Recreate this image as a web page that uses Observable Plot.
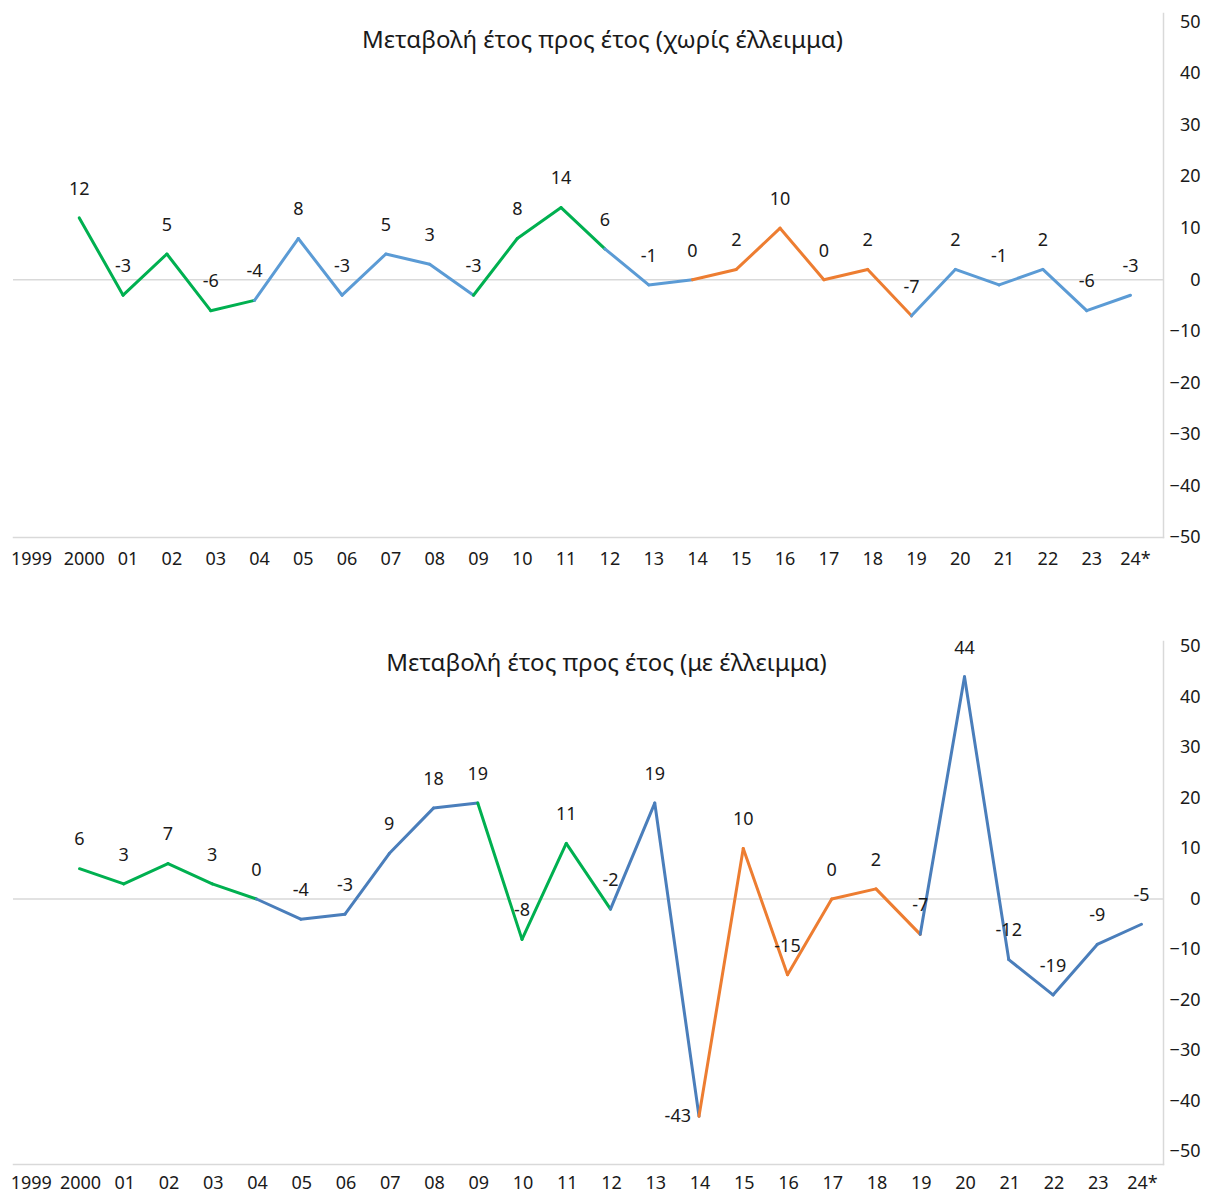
<!DOCTYPE html>
<html><head><meta charset="utf-8">
<script src="https://cdn.jsdelivr.net/npm/d3@7"></script>
<script src="https://cdn.jsdelivr.net/npm/@observablehq/plot@0.6"></script>
<style>
body{margin:0;background:#fff;}
#c svg{display:block;overflow:visible;}
</style></head><body><div id="c"></div>
<script>
const years = ["1999","2000","01","02","03","04","05","06","07","08","09","10","11","12","13","14","15","16","17","18","19","20","21","22","23","24*"];
const dataYears = years.slice(1);
const titleTop = "Μεταβολή έτος προς έτος (χωρίς έλλειμμα)";
const titleBottom = "Μεταβολή έτος προς έτος (με έλλειμμα)";
const valuesWithout = [12,-3,5,-6,-4,8,-3,5,3,-3,8,14,6,-1,0,2,10,0,2,-7,2,-1,2,-6,-3];
const valuesWith = [6,3,7,3,0,-4,-3,9,18,19,-8,11,-2,19,-43,10,-15,0,2,-7,44,-12,-19,-9,-5];
// colour group of each segment, from one year to the next (2000→01 … 23→24*)
const segmentGroup = ["G","G","G","G","B","B","B","B","B","G","G","G","B","B","O","O","O","O","O","B","B","B","B","B"];
const yTicks = [-50,-40,-30,-20,-10,0,10,20,30,40,50];

function chart(values, o) {
  const pts = dataYears.map((y, i) => ({year: y, value: values[i]}));
  const segs = segmentGroup.map((g, i) => ({x1: dataYears[i], y1: values[i], x2: dataYears[i + 1], y2: values[i + 1], group: g}));
  const axisOpts = {anchor: "bottom", tickSize: 0, tickPadding: o.xPad, fontSize: 18, label: null, fill: "#1a1a1a"};
  return Plot.plot({
    width: 1210, height: o.height,
    marginLeft: 13, marginRight: 47, marginTop: o.marginTop, marginBottom: o.marginBottom,
    style: {fontFamily: "'Noto Sans', sans-serif", fontSize: "18px", color: "#1a1a1a", background: "#fff", overflow: "visible"},
    x: {type: "point", domain: years, padding: 0, round: false, range: o.xRange, label: null},
    y: {domain: [-50, 50], insetTop: o.insetTop, insetBottom: o.insetBottom, label: null},
    color: {type: "ordinal", domain: ["G", "B", "O"], range: ["#00B050", o.blue, "#ED7D31"]},
    marks: [
      Plot.frame({anchor: "right", stroke: "#d9d9d9", strokeWidth: 1.5, strokeOpacity: 1}),
      Plot.frame({anchor: "bottom", stroke: "#d9d9d9", strokeWidth: 1.5, strokeOpacity: 1}),
      Plot.ruleY([0], {stroke: "#d9d9d9", strokeWidth: 1.5}),
      Plot.axisY(yTicks, {anchor: "right", tickSize: 0, tickPadding: 37, textAnchor: "end", fontSize: 18, label: null, fill: "#1a1a1a"}),
      Plot.axisX(years.slice(0, 1), {...axisOpts, dx: -4}),
      Plot.axisX(years.slice(1), {...axisOpts, dx: o.xLabelDx}),
      Plot.link(segs, {x1: "x1", y1: "y1", x2: "x2", y2: "y2", stroke: "group", strokeWidth: 3, strokeLinecap: "round"}),
      Plot.text(pts.filter(d => d.value >= -30), {x: "year", y: "value", text: d => String(d.value), dy: -29, fontSize: 18, fill: "#1a1a1a"}),
      Plot.text(pts.filter(d => d.value < -30), {x: "year", y: "value", text: d => String(d.value), textAnchor: "end", dx: -8, fontSize: 18, fill: "#1a1a1a"}),
      Plot.text([o.title], {frameAnchor: "top", text: d => d, dx: o.titleDx, dy: o.titleDy, fontSize: 24, fill: "#1a1a1a"})
    ]
  });
}

const c = document.getElementById("c");
c.append(chart(valuesWithout, {
  height: 590, marginTop: 13, marginBottom: 53, insetTop: 8.5, insetBottom: 0,
  xRange: [35, 1130], blue: "#5B9BD5", title: titleTop, titleDx: 14, titleDy: 17, xLabelDx: 5, xPad: 15
}));
c.append(chart(valuesWith, {
  height: 604, marginTop: 51, marginBottom: 30, insetTop: 5, insetBottom: 13,
  xRange: [34.75, 1141], blue: "#4A7EBB", title: titleBottom, titleDx: 18, titleDy: 12, xLabelDx: 1, xPad: 12
}));
</script></body></html>
